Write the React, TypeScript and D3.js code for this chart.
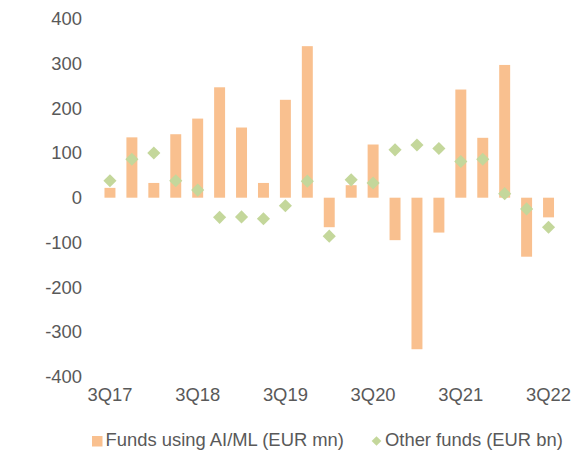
import { useMemo } from 'react';
import * as d3 from 'd3';

const quarters = [
  '3Q17', '4Q17', '1Q18', '2Q18', '3Q18', '4Q18', '1Q19', '2Q19', '3Q19', '4Q19', '1Q20',
  '2Q20', '3Q20', '4Q20', '1Q21', '2Q21', '3Q21', '4Q21', '1Q22', '2Q22', '3Q22',
];
const aiFunds = [22, 135, 33, 142, 177, 247, 157, 33, 219, 339, -66, 28, 119, -95, -339, -78, 242, 134, 297, -132, -44];
const otherFunds = [38, 86, 100, 38, 17, -44, -43, -47, -18, 37, -86, 40, 33, 107, 118, 110, 81, 86, 9, -25, -66];
const yTicks = [-400, -300, -200, -100, 0, 100, 200, 300, 400];
const xTickLabels = ['3Q17', '3Q18', '3Q19', '3Q20', '3Q21', '3Q22'];
const legendLabels = ['Funds using AI/ML (EUR mn)', 'Other funds (EUR bn)'];

const BAR = '#F9C08F';
const DOT = '#C4D79B';
const INK = '#595959';
const FONT = '"Liberation Sans", Arial, sans-serif';
const FS = 18.4;

export default function App(): React.ReactNode {
  const width = 580;
  const height = 452;

  const { x, y } = useMemo(() => {
    const x = d3.scaleBand<string>().domain(quarters).range([99, 559.5]).paddingInner(0.5).paddingOuter(0.25);
    const y = d3.scaleLinear().domain([-400, 400]).range([376.5, 18.9]);
    return { x, y };
  }, []);

  const diamond = d3.symbol(d3.symbolDiamond2, 110)() ?? '';

  return (
    <svg
      width={width}
      height={height}
      style={{ position: 'absolute', left: 0, top: 0, background: '#fff' }}
      fontFamily={FONT}
    >
      {aiFunds.map((v, i) => (
        <rect
          key={quarters[i]}
          x={x(quarters[i])}
          width={x.bandwidth()}
          y={Math.min(y(v), y(0))}
          height={Math.abs(y(v) - y(0))}
          fill={BAR}
        />
      ))}
      {otherFunds.map((v, i) => (
        <path
          key={quarters[i]}
          d={diamond}
          transform={`translate(${(x(quarters[i]) ?? 0) + x.bandwidth() / 2},${y(v)})`}
          fill={DOT}
        />
      ))}
      {yTicks.map((t) => (
        <text key={t} x={82} y={y(t)} dy="0.35em" textAnchor="end" fill={INK} fontSize={FS}>
          {t}
        </text>
      ))}
      {xTickLabels.map((l) => (
        <text
          key={l}
          x={(x(l) ?? 0) + x.bandwidth() / 2}
          y={401}
          textAnchor="middle"
          fill={INK}
          fontSize={FS}
        >
          {l}
        </text>
      ))}
      <g>
        <rect x={92} y={436} width={10.5} height={10.5} fill={BAR} />
        <text x={105.5} y={445.5} fill={INK} fontSize={FS}>
          {legendLabels[0]}
        </text>
        <path d={d3.symbol(d3.symbolDiamond2, 60)() ?? ''} transform="translate(376.5,441)" fill={DOT} />
        <text x={385} y={445.5} fill={INK} fontSize={FS}>
          {legendLabels[1]}
        </text>
      </g>
    </svg>
  );
}
